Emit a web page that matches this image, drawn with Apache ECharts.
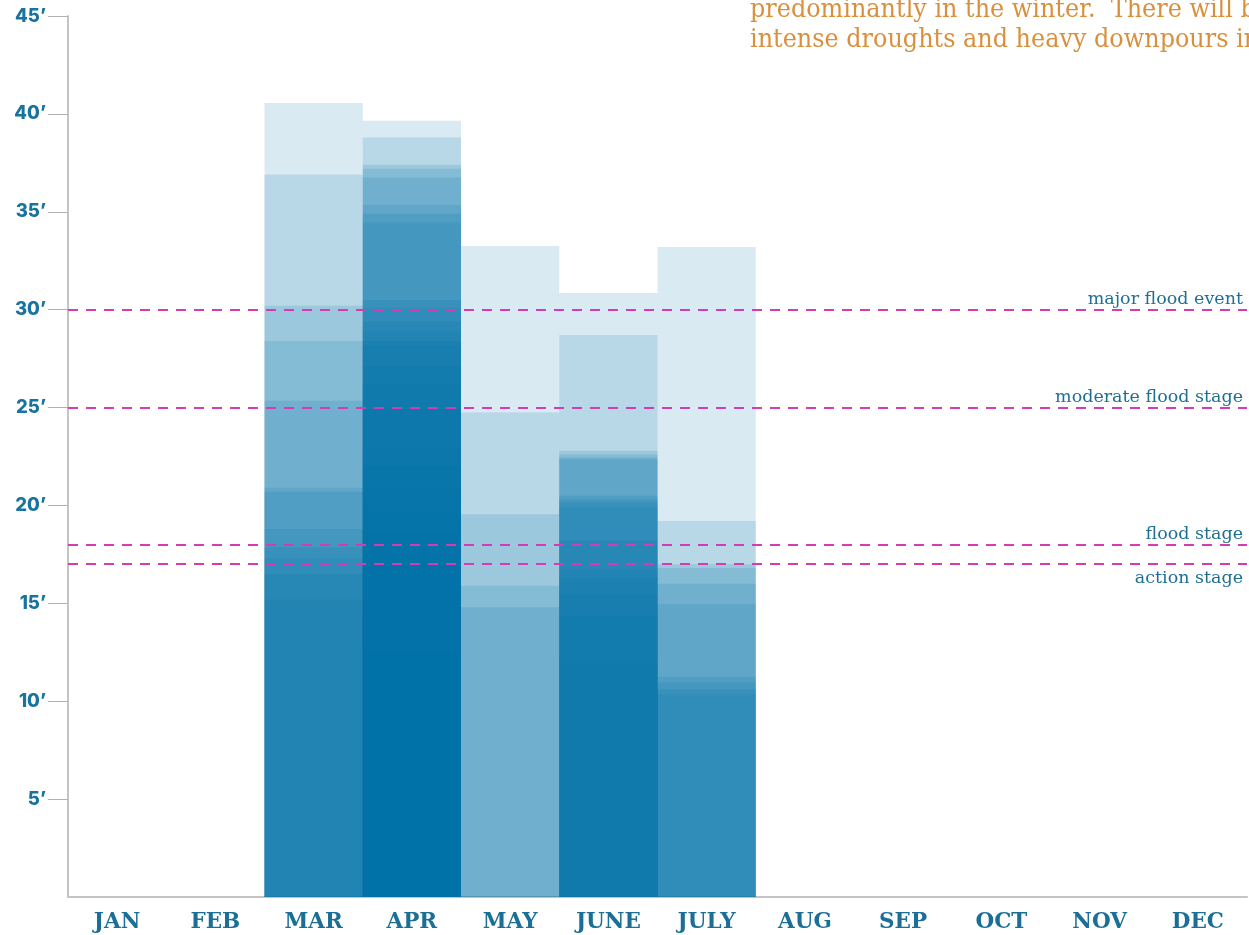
<!DOCTYPE html>
<html>
<head>
<meta charset="utf-8">
<script src="https://cdn.jsdelivr.net/npm/echarts@6/dist/echarts.min.js"></script>
<style>
  html, body { margin: 0; padding: 0; background: #ffffff; }
  #chart { width: 1249px; height: 935px; }
</style>
</head>
<body>
<div id="chart"></div>
<script>
// Month categories
const months = ['JAN', 'FEB', 'MAR', 'APR', 'MAY', 'JUNE', 'JULY', 'AUG', 'SEP', 'OCT', 'NOV', 'DEC'];

// Crest heights (feet) recorded in each month, drawn as overlapping translucent bars
const marLevels  = [40.55, 36.9, 30.2, 28.4, 25.35, 20.9, 20.7, 18.8, 17.85, 17.3, 16.5, 15.2];
const aprLevels  = [39.65, 38.8, 37.4, 37.2, 36.75, 35.35, 34.9, 34.45, 30.5, 30.1, 29.4, 28.9, 28.4, 28.2, 27.1, 26.2, 24.9, 22.9, 22.0, 20.9, 20.0, 18.7, 16.9, 14.4, 12.6];
const mayLevels  = [33.25, 24.75, 19.55, 15.9, 14.8];
const juneLevels = [30.85, 28.7, 22.8, 22.6, 22.45, 22.35, 20.5, 20.3, 20.15, 19.9, 18.2, 16.7, 16.3, 15.45, 14.35, 12.1];
const julyLevels = [33.2, 19.2, 17.0, 16.8, 16.0, 14.95, 11.25, 10.95, 10.6, 10.35];

// Flood stage reference lines
const stageNames  = ['major flood event', 'moderate flood stage', 'flood stage', 'action stage'];
const stageValues = [30, 25, 18, 17];

// Y axis
const yMin = 0, yMax = 45, yInterval = 5;
const yTickValues = [5, 10, 15, 20, 25, 30, 35, 40, 45];

// Annotation text (cut off at right edge in the original)
const noteLines = ['predominantly in the winter.  There will be', 'intense droughts and heavy downpours in'];

const levelsByMonth = {
  'MAR': marLevels, 'APR': aprLevels, 'MAY': mayLevels, 'JUNE': juneLevels, 'JULY': julyLevels
};
const maxLayers = Math.max(...Object.values(levelsByMonth).map(a => a.length));

const series = [];
for (let i = 0; i < maxLayers; i++) {
  series.push({
    type: 'bar',
    name: 'layer' + i,
    barWidth: '100%',
    barGap: '-100%',
    barCategoryGap: 0,
    silent: true,
    itemStyle: { color: 'rgba(0,115,165,0.15)' },
    data: months.map(m => {
      const arr = levelsByMonth[m];
      return (arr && arr[i] !== undefined) ? arr[i] : '-';
    })
  });
}

// Flood stage lines
series.push({
  type: 'line',
  name: 'stages',
  data: [],
  silent: true,
  markLine: {
    symbol: 'none',
    silent: true,
    animation: false,
    lineStyle: { color: '#d43cb4', width: 2, type: [10, 8] },
    label: {
      show: true,
      position: 'insideEndTop',
      formatter: '{b}',
      color: '#1f6f94',
      fontFamily: '"DejaVu Serif"',
      fontSize: 17.5,
      distance: [4, 1]
    },
    data: stageNames.map((n, k) => {
      const item = { name: n, yAxis: stageValues[k] };
      if (n === 'action stage') item.label = { position: 'insideEndBottom', distance: [4, 5] };
      return item;
    })
  }
});

const chart = echarts.init(document.getElementById('chart'), null, { renderer: 'canvas' });
chart.setOption({
  animation: false,
  backgroundColor: '#ffffff',
  grid: { left: 68, right: 2, top: 16, bottom: 38, containLabel: false },
  xAxis: {
    type: 'category',
    data: months,
    boundaryGap: true,
    axisLine: { show: true, lineStyle: { color: '#c4c4c4', width: 2 } },
    axisTick: { show: false },
    axisLabel: {
      color: '#1b6f97',
      fontFamily: '"DejaVu Serif"',
      fontWeight: 'bold',
      fontSize: 21.5,
      margin: 14
    },
    splitLine: { show: false }
  },
  yAxis: {
    type: 'value',
    min: yMin,
    max: yMax,
    interval: yInterval,
    axisLine: { show: true, lineStyle: { color: '#c4c4c4', width: 2 } },
    axisTick: { show: true, length: 20, customValues: yTickValues, lineStyle: { color: '#b0b0b0', width: 1 } },
    axisLabel: {
      color: '#18739f',
      fontFamily: 'Inter',
      fontWeight: 800,
      fontSize: 18.5,
      margin: 22,
      customValues: yTickValues,
      formatter: v => v + '\u2019'
    },
    splitLine: { show: false }
  },
  graphic: noteLines.map((t, k) => ({
    type: 'text',
    x: 750,
    y: -3 + k * 30,
    scaleX: 0.92,
    silent: true,
    style: {
      text: t,
      font: '26px "DejaVu Serif"',
      fill: '#d9903c',
      verticalAlign: 'top'
    }
  })),
  series: series
});
</script>
</body>
</html>
